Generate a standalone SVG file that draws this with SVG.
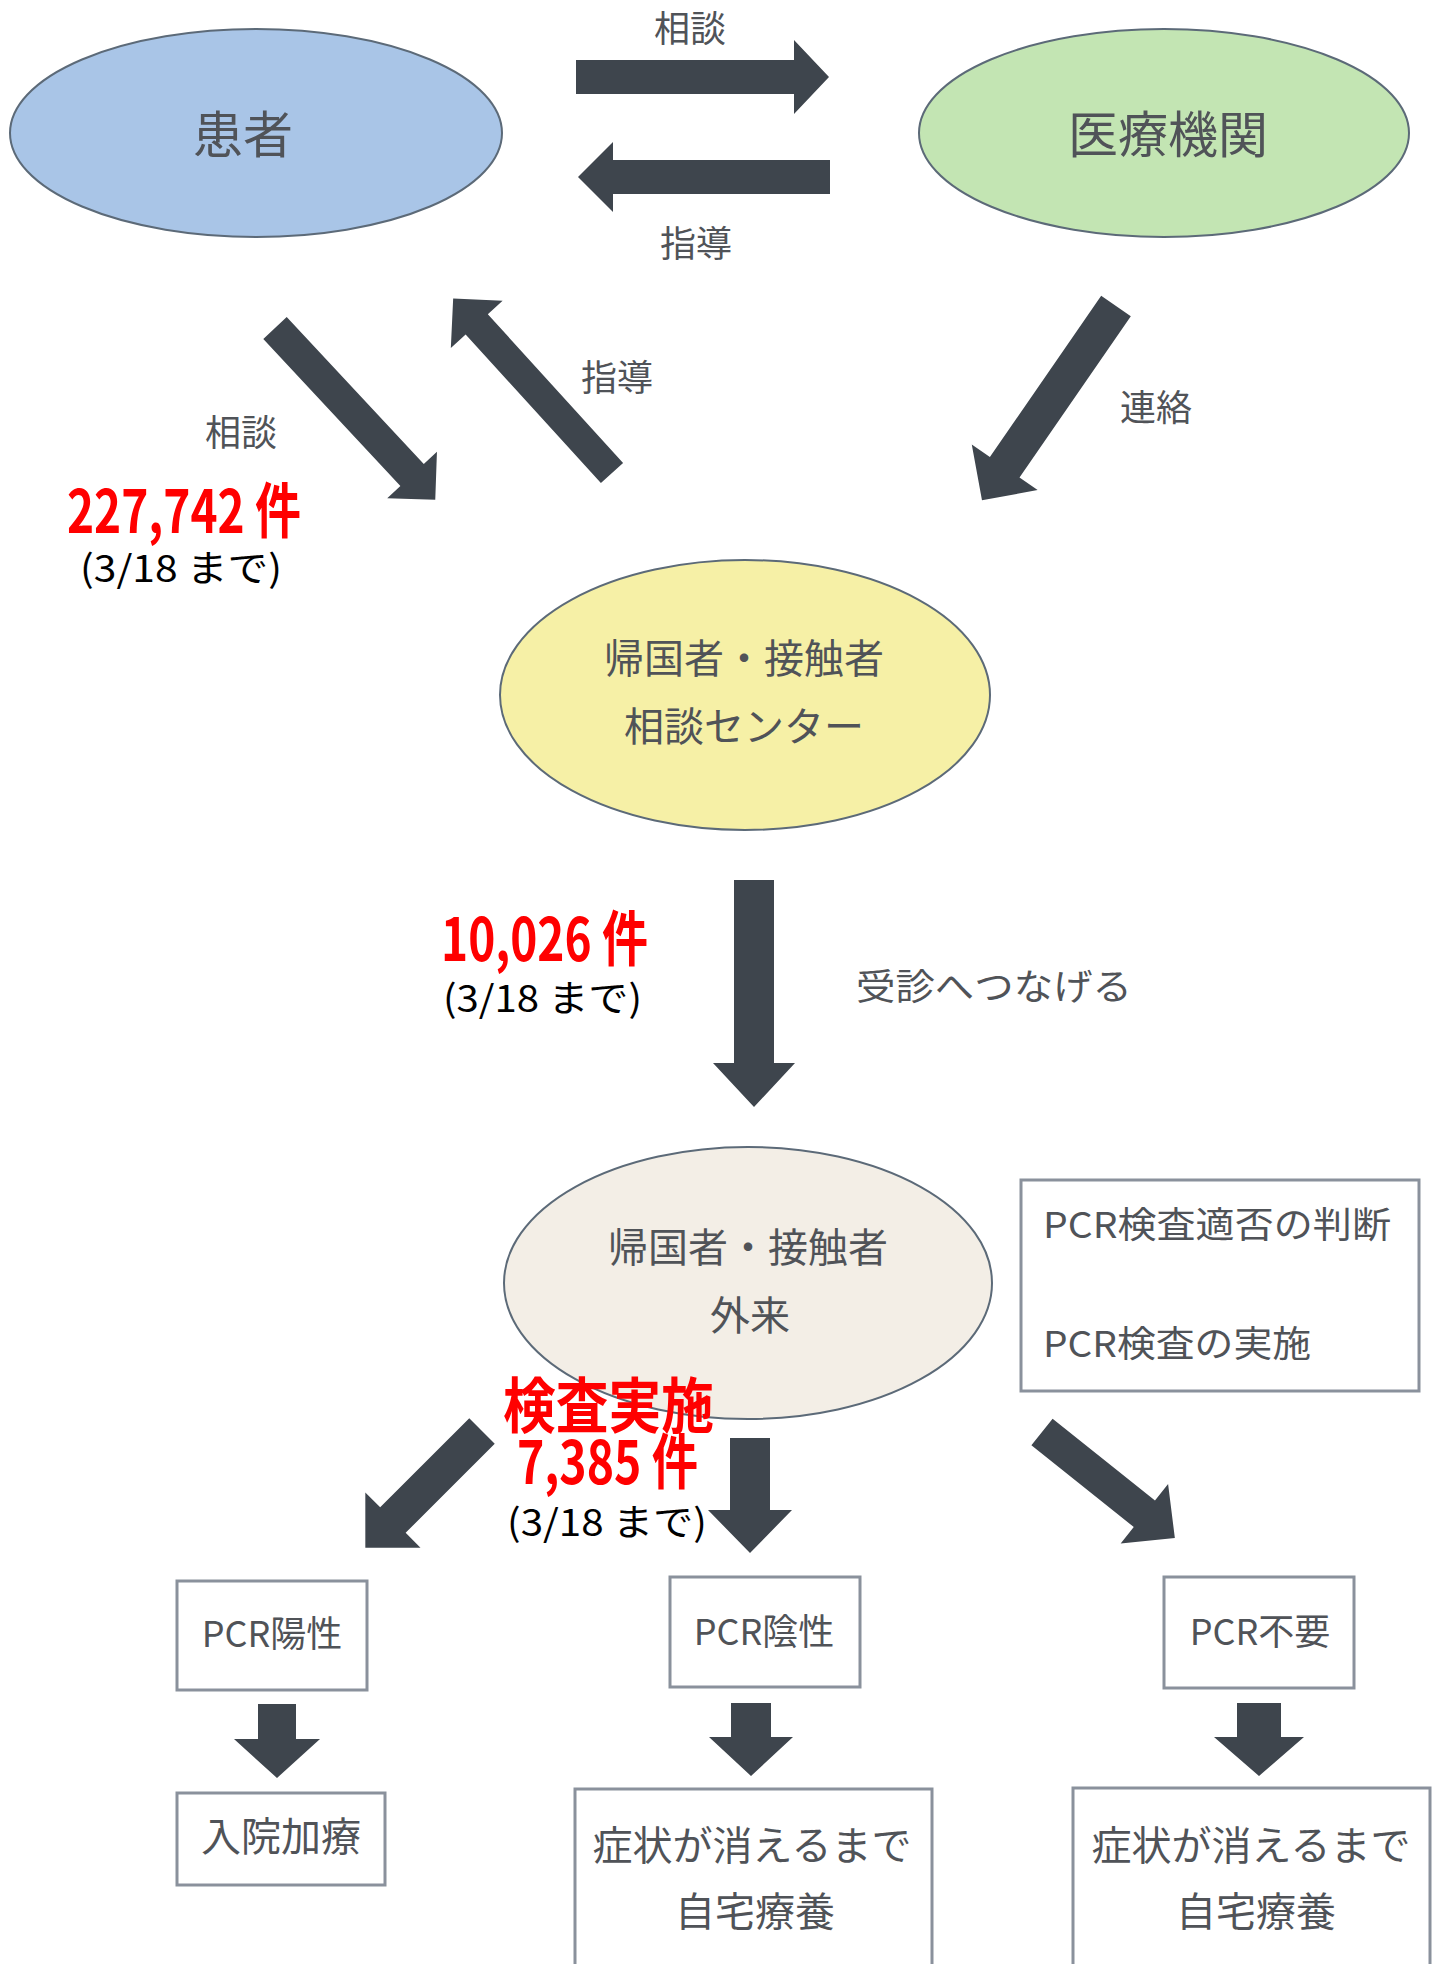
<svg xmlns="http://www.w3.org/2000/svg" width="1442" height="1964" viewBox="0 0 1442 1964">
<style>
.lbl{font-family:"Noto Sans CJK JP","Noto Sans",sans-serif;fill:#505358;font-size:36px;text-anchor:middle}
.st{text-anchor:start}
.big{font-size:50px}
.mid{font-size:40px}
.red{font-family:"Noto Sans CJK JP","Liberation Sans",sans-serif;fill:#ff0000;font-weight:bold;font-size:60px}
.blk{font-family:"Noto Sans CJK JP","Liberation Sans",sans-serif;fill:#000;font-size:37px}
.arr{fill:#3e454d}
.box{fill:#fff;stroke:#8a919c;stroke-width:3}
.ell{stroke:#5c6a78;stroke-width:2}
</style>
<rect width="1442" height="1964" fill="#fff"/>
<g id="connectors">
<polygon class="arr" transform="translate(576,77)" points="0,-17 218,-17 218,-37 253,0 218,37 218,17 0,17"/>
<polygon class="arr" transform="translate(830,177) rotate(180)" points="0,-17 217,-17 217,-35 252,0 217,35 217,17 0,17"/>
<polygon class="arr" transform="translate(275,328) rotate(47)" points="0,-16 201,-16 201,-34 235,0 201,34 201,16 0,16"/>
<polygon class="arr" transform="translate(612,473) rotate(-132.3)" points="0,-15 201,-15 201,-35 236,0 201,35 201,15 0,15"/>
<polygon class="arr" transform="translate(1116,306) rotate(124.6)" points="0,-18 196,-18 196,-40 236,0 196,40 196,18 0,18"/>
<polygon class="arr" transform="translate(754,880) rotate(90)" points="0,-20 183,-20 183,-41 227,0 183,41 183,20 0,20"/>
<polygon class="arr" transform="translate(482,1431) rotate(135)" points="0,-18 126,-18 126,-39 165,0 126,39 126,18 0,18"/>
<polygon class="arr" transform="translate(750,1438) rotate(90)" points="0,-20 72,-20 72,-42 115,0 72,42 72,20 0,20"/>
<polygon class="arr" transform="translate(1042,1432) rotate(38.6)" points="0,-17 131,-17 131,-38 170,0 131,38 131,17 0,17"/>
<polygon class="arr" transform="translate(277,1704) rotate(90)" points="0,-19 35,-19 35,-43 74,0 35,43 35,19 0,19"/>
<polygon class="arr" transform="translate(751,1703) rotate(90)" points="0,-20 34,-20 34,-42 73,0 34,42 34,20 0,20"/>
<polygon class="arr" transform="translate(1259,1703) rotate(90)" points="0,-22 34,-22 34,-45 73,0 34,45 34,22 0,22"/>
<text class="lbl" x="690" y="42">相談</text>
<text class="lbl" x="696" y="257">指導</text>
<text class="lbl" x="241" y="446">相談</text>
<text class="lbl" x="617" y="391">指導</text>
<text class="lbl" x="1156" y="421">連絡</text>
<text class="lbl" x="994" y="1000" font-size="40" textLength="276" lengthAdjust="spacingAndGlyphs">受診へつなげる</text>
</g>
<g id="kanja">
<ellipse class="ell" cx="256" cy="133" rx="246" ry="104" fill="#a9c5e7"/>
<text class="lbl big" x="243" y="153">患者</text>
</g>
<g id="iryokikan">
<ellipse class="ell" cx="1164" cy="133" rx="245" ry="104" fill="#c3e5b3"/>
<text class="lbl big" x="1168" y="153">医療機関</text>
</g>
<g id="soudan-center">
<ellipse class="ell" cx="745" cy="695" rx="245" ry="135" fill="#f6f0a6"/>
<text class="lbl mid" x="744" y="673">帰国者・接触者</text>
<text class="lbl mid" x="744" y="741">相談センター</text>
</g>
<g id="gairai">
<ellipse class="ell" cx="748" cy="1283" rx="244" ry="136" fill="#f3eee6"/>
<text class="lbl mid" x="748" y="1262">帰国者・接触者</text>
<text class="lbl mid" x="750" y="1330">外来</text>
</g>
<g id="pcr-judge">
<rect class="box" x="1021" y="1180" width="398" height="211"/>
<text class="lbl st" x="1043" y="1238" font-size="38" textLength="348" lengthAdjust="spacingAndGlyphs">PCR検査適否の判断</text>
<text class="lbl st" x="1043" y="1357" font-size="38" textLength="268" lengthAdjust="spacingAndGlyphs">PCR検査の実施</text>
</g>
<g id="pcr-positive">
<rect class="box" x="177" y="1581" width="190" height="109"/>
<text class="lbl" x="272" y="1647" font-size="38">PCR陽性</text>
</g>
<g id="pcr-negative">
<rect class="box" x="670" y="1577" width="190" height="110"/>
<text class="lbl" x="764" y="1645" font-size="38">PCR陰性</text>
</g>
<g id="pcr-unneeded">
<rect class="box" x="1164" y="1577" width="190" height="111"/>
<text class="lbl" x="1260" y="1645" font-size="38">PCR不要</text>
</g>
<g id="nyuin">
<rect class="box" x="177" y="1793" width="208" height="92"/>
<text class="lbl mid" x="281" y="1851">入院加療</text>
</g>
<g id="jitaku1">
<rect class="box" x="575" y="1789" width="357" height="200"/>
<text class="lbl mid" x="752" y="1860">症状が消えるまで</text>
<text class="lbl mid" x="755" y="1926">自宅療養</text>
</g>
<g id="jitaku2">
<rect class="box" x="1073" y="1788" width="357" height="200"/>
<text class="lbl mid" x="1251" y="1860">症状が消えるまで</text>
<text class="lbl mid" x="1256" y="1926">自宅療養</text>
</g>
<g id="counts">
<text class="red" x="67" y="533" textLength="234" lengthAdjust="spacingAndGlyphs">227,742 件</text>
<text class="blk" x="80" y="582" textLength="202" lengthAdjust="spacingAndGlyphs">(3/18 まで)</text>
<text class="red" x="441" y="961" textLength="207" lengthAdjust="spacingAndGlyphs">10,026 件</text>
<text class="blk" x="443" y="1012" textLength="199" lengthAdjust="spacingAndGlyphs">(3/18 まで)</text>
<text class="red" x="503" y="1428" font-size="53" textLength="211" lengthAdjust="spacingAndGlyphs">検査実施</text>
<text class="red" x="517" y="1484" textLength="181" lengthAdjust="spacingAndGlyphs">7,385 件</text>
<text class="blk" x="507" y="1536" textLength="200" lengthAdjust="spacingAndGlyphs">(3/18 まで)</text>
</g>
</svg>
